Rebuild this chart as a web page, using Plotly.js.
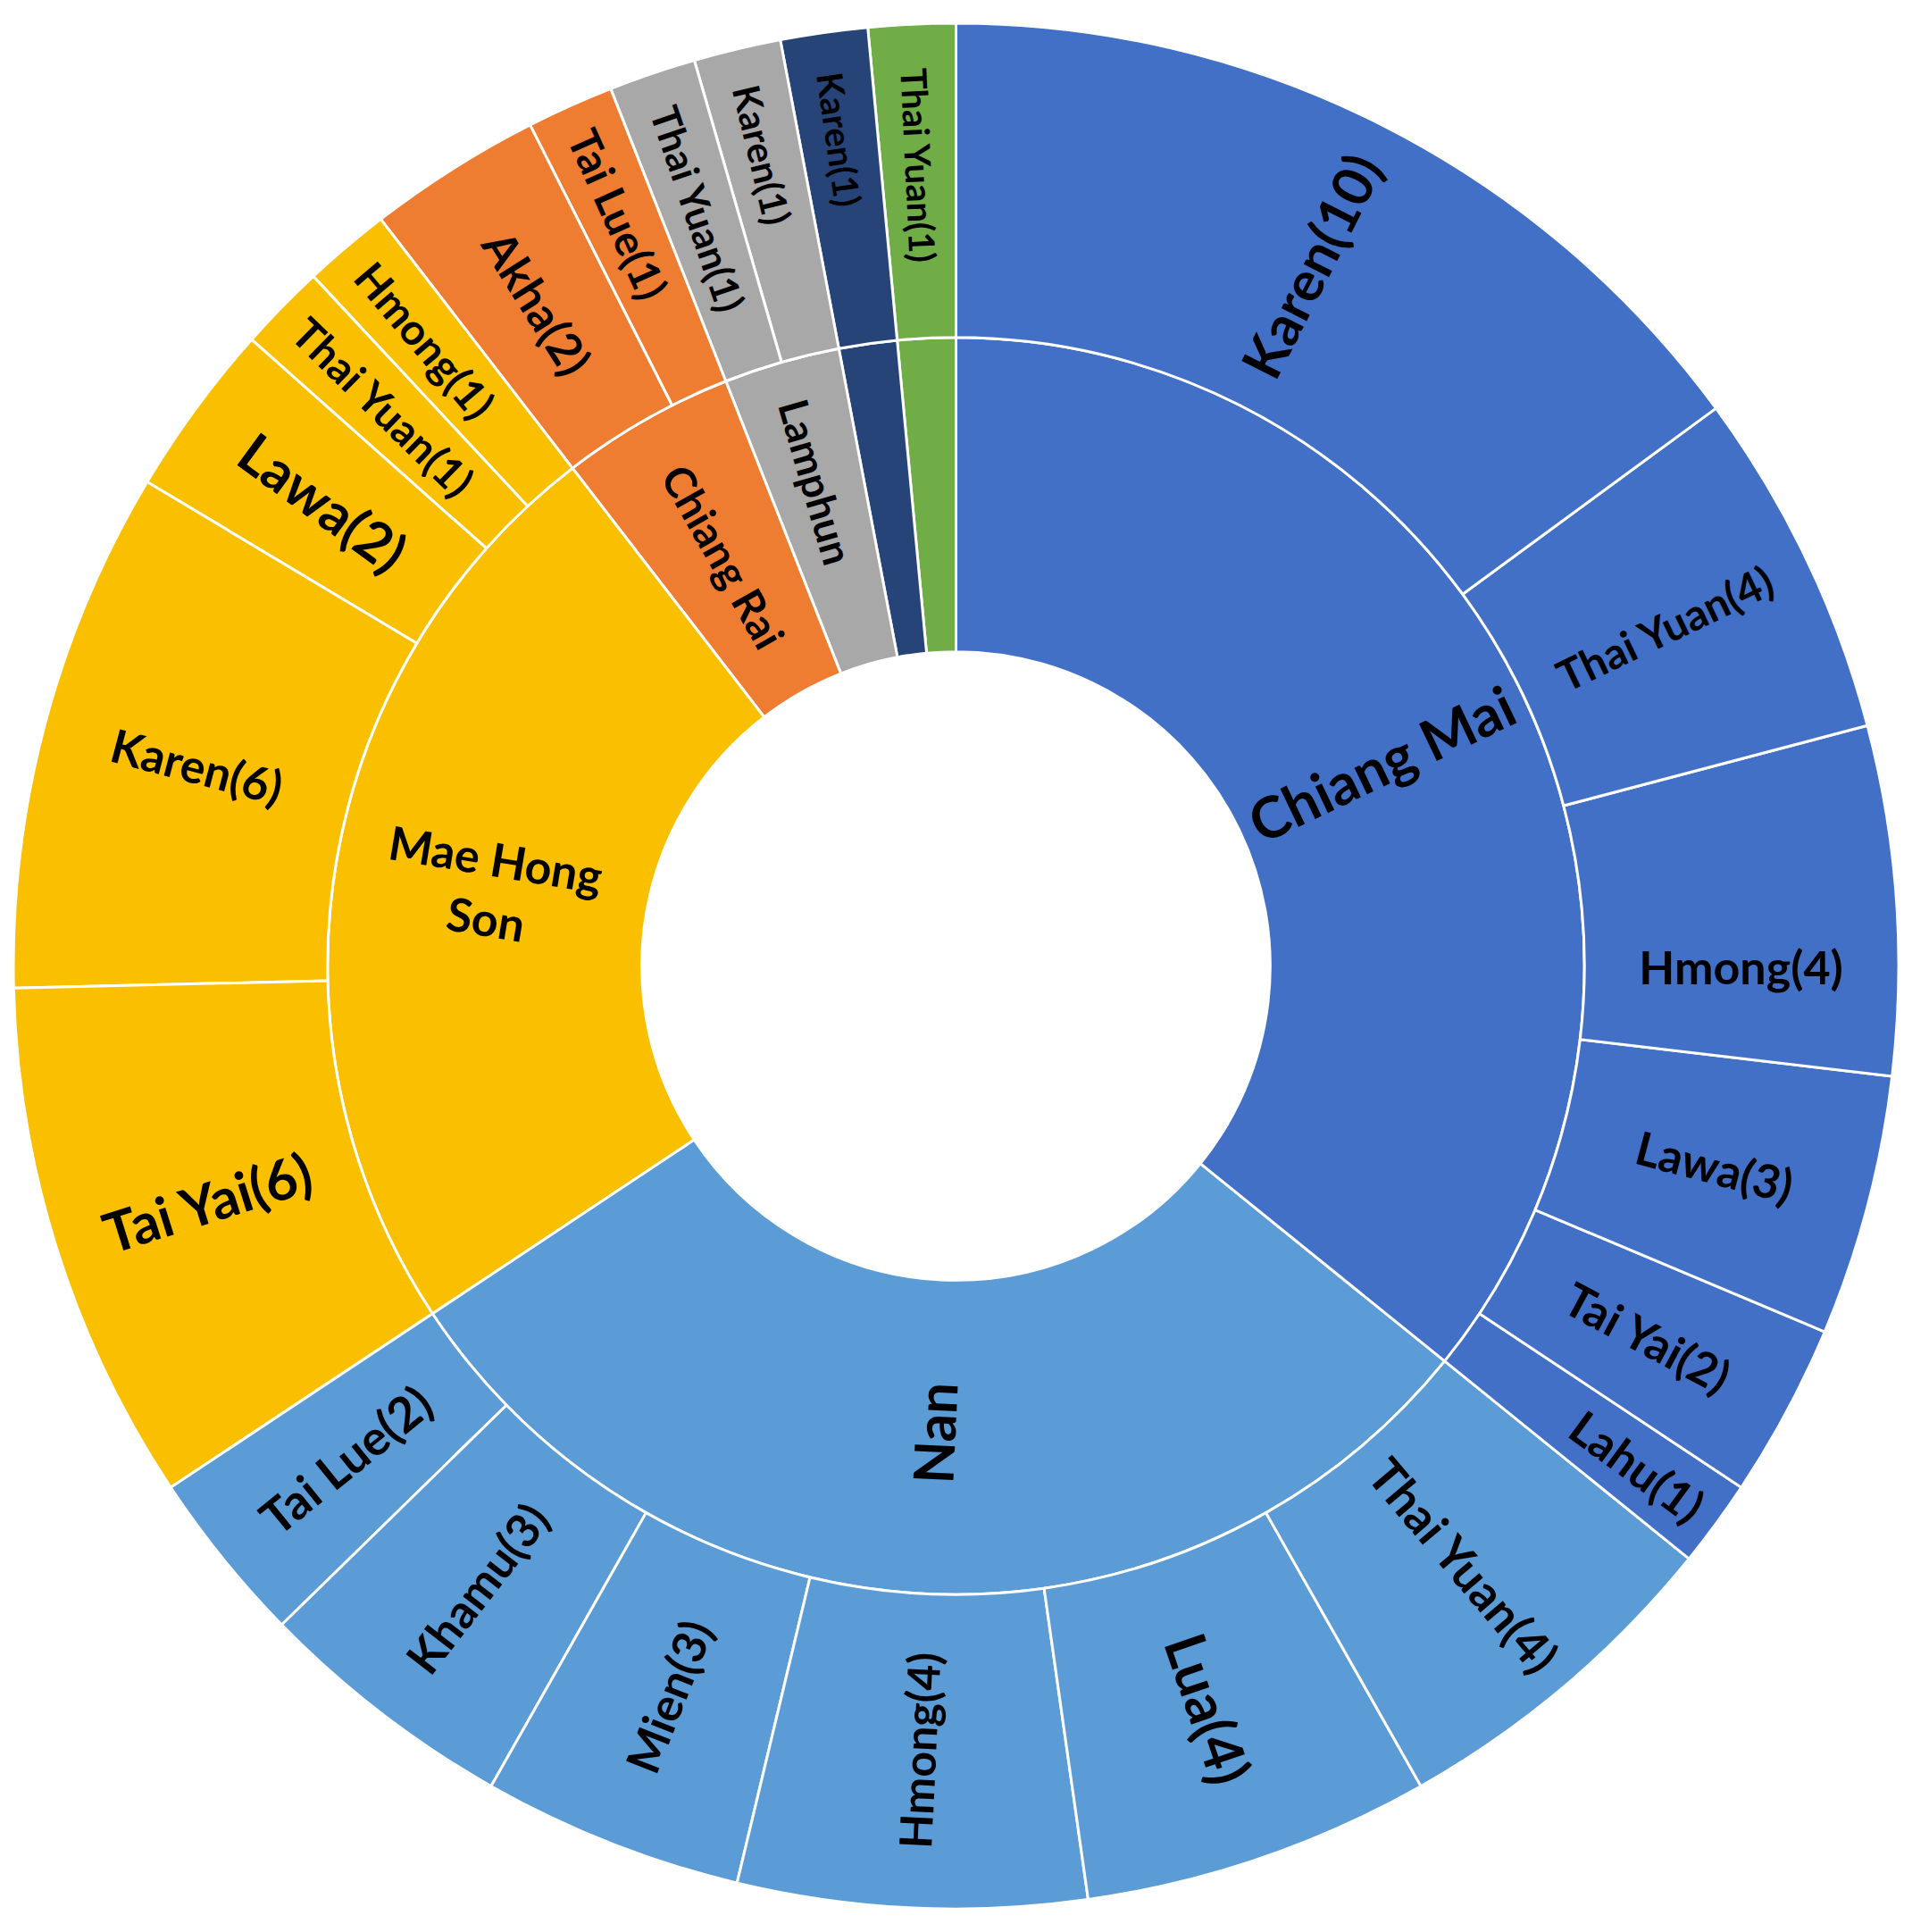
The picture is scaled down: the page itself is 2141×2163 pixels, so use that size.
<!DOCTYPE html>
<html>
<head>
<meta charset="utf-8">
<script src="https://cdn.plot.ly/plotly-3.0.1.min.js"></script>
<style>
    html, body { margin: 0; padding: 0; background: #ffffff; }
    #chart { width: 2141px; height: 2163px; }
</style>
</head>
<body>
<div id="chart"></div>
<script>
// Provinces, clockwise from 12 o'clock. The last two are too thin to carry a label.
const provinces = ['Chiang Mai', 'Nan', 'Mae Hong Son', 'Chiang Rai', 'Lamphun', 'Province 6', 'Province 7'];
const provinceText = ['Chiang Mai', 'Nan', 'Mae Hong<br>Son', 'Chiang Rai', 'Lamphun', '', ''];
const provinceColors = ['#4170C6', '#5B9BD6', '#FAC000', '#EE7D31', '#A8A8A8', '#264478', '#70AD47'];
const provinceFont = [64, 62, 52, 48, 46, 10, 10];

// Ethnic groups per province, clockwise
const groupProvince = [
    'Chiang Mai', 'Chiang Mai', 'Chiang Mai', 'Chiang Mai', 'Chiang Mai', 'Chiang Mai',
    'Nan', 'Nan', 'Nan', 'Nan', 'Nan', 'Nan',
    'Mae Hong Son', 'Mae Hong Son', 'Mae Hong Son', 'Mae Hong Son', 'Mae Hong Son',
    'Chiang Rai', 'Chiang Rai',
    'Lamphun', 'Lamphun',
    'Province 6',
    'Province 7'
];
const groupNames = [
    'Karen', 'Thai Yuan', 'Hmong', 'Lawa', 'Tai Yai', 'Lahu',
    'Thai Yuan', 'Lua', 'Hmong', 'Mien', 'Khamu', 'Tai Lue',
    'Tai Yai', 'Karen', 'Lawa', 'Thai Yuan', 'Hmong',
    'Akha', 'Tai Lue',
    'Thai Yuan', 'Karen',
    'Karen',
    'Thai Yuan'
];
const groupCounts = [
    10, 4, 4, 3, 2, 1,
    4, 4, 4, 3, 3, 2,
    6, 6, 2, 1, 1,
    2, 1,
    1, 1,
    1,
    1
];
const groupFont = [
    62, 48, 52, 52, 52, 52,
    54, 64, 50, 52, 52, 54,
    62, 52, 62, 48, 48,
    52, 48,
    44, 42,
    40,
    40
];

// plotly keeps these two horizontal; they get tilted radial labels as annotations instead
const annotatedProvinces = ['Chiang Mai', 'Mae Hong Son'];

const FONT = 'Lato, "Open Sans", sans-serif';
const MARGIN = { l: 15, r: 15, t: 26, b: 26 };
const W = 2141, H = 2163;

function provinceTotals() {
    return provinces.map(p => {
        let total = 0;
        groupProvince.forEach((gp, j) => { if (gp === p) total += groupCounts[j]; });
        return total;
    });
}

function buildTrace() {
    const ids = [], labels = [], parents = [], values = [], text = [], colors = [], sizes = [];
    const totals = provinceTotals();

    provinces.forEach((p, i) => {
        ids.push(p);
        labels.push(p);
        parents.push('root');
        values.push(totals[i]);
        text.push(annotatedProvinces.includes(p) ? '' : provinceText[i]);
        colors.push(provinceColors[i]);
        sizes.push(provinceFont[i]);
    });

    groupNames.forEach((g, j) => {
        const p = groupProvince[j];
        ids.push(p + ' / ' + g);
        labels.push(g);
        parents.push(p);
        values.push(groupCounts[j]);
        text.push(`${g}(${groupCounts[j]})`);
        colors.push(provinceColors[provinces.indexOf(p)]);
        sizes.push(groupFont[j]);
    });

    // sunburst lays slices out counterclockwise, so feed it the clockwise order reversed
    const order = ids.map((_, k) => k).reverse();
    const pick = arr => order.map(k => arr[k]);

    // a blank root keeps the centre empty, same width as each ring
    const grand = totals.reduce((a, b) => a + b, 0);

    return {
        type: 'sunburst',
        ids: ['root'].concat(pick(ids)),
        labels: [''].concat(pick(labels)),
        parents: [''].concat(pick(parents)),
        values: [grand].concat(pick(values)),
        text: [''].concat(pick(text)),
        textinfo: 'text',
        branchvalues: 'total',
        sort: false,
        rotation: 90,
        insidetextorientation: 'radial',
        marker: {
            colors: ['#ffffff'].concat(pick(colors)),
            line: { color: '#ffffff', width: 3 }
        },
        textfont: {
            family: FONT,
            weight: 'bold',
            color: '#000000',
            size: [10].concat(pick(sizes))
        },
        leaf: { opacity: 1 },
        hoverinfo: 'label+value'
    };
}

function buildAnnotations() {
    const totals = provinceTotals();
    const grand = totals.reduce((a, b) => a + b, 0);
    const plotW = W - MARGIN.l - MARGIN.r;
    const plotH = H - MARGIN.t - MARGIN.b;
    const radius = Math.min(plotW, plotH) / 2;
    const ringMid = radius * 1.5 / 3;   // centre of the province ring

    const notes = [];
    let cum = 0;
    provinces.forEach((p, i) => {
        const mid = (cum + totals[i] / 2) / grand * 360;
        cum += totals[i];
        if (!annotatedProvinces.includes(p)) return;
        const rad = mid * Math.PI / 180;
        let angle = mid - 90;
        if (angle > 90) angle -= 180;
        if (angle < -90) angle += 180;
        notes.push({
            xref: 'paper', yref: 'paper',
            x: 0.5 + ringMid * Math.sin(rad) / plotW,
            y: 0.5 + ringMid * Math.cos(rad) / plotH,
            xanchor: 'center', yanchor: 'middle',
            text: provinceText[i],
            textangle: angle,
            showarrow: false,
            font: { family: FONT, weight: 'bold', color: '#000000', size: provinceFont[i] }
        });
    });
    return notes;
}

const layout = {
    width: W,
    height: H,
    margin: MARGIN,
    paper_bgcolor: '#ffffff',
    showlegend: false,
    annotations: buildAnnotations()
};

Plotly.newPlot('chart', [buildTrace()], layout, { displayModeBar: false, staticPlot: true });
</script>
</body>
</html>
